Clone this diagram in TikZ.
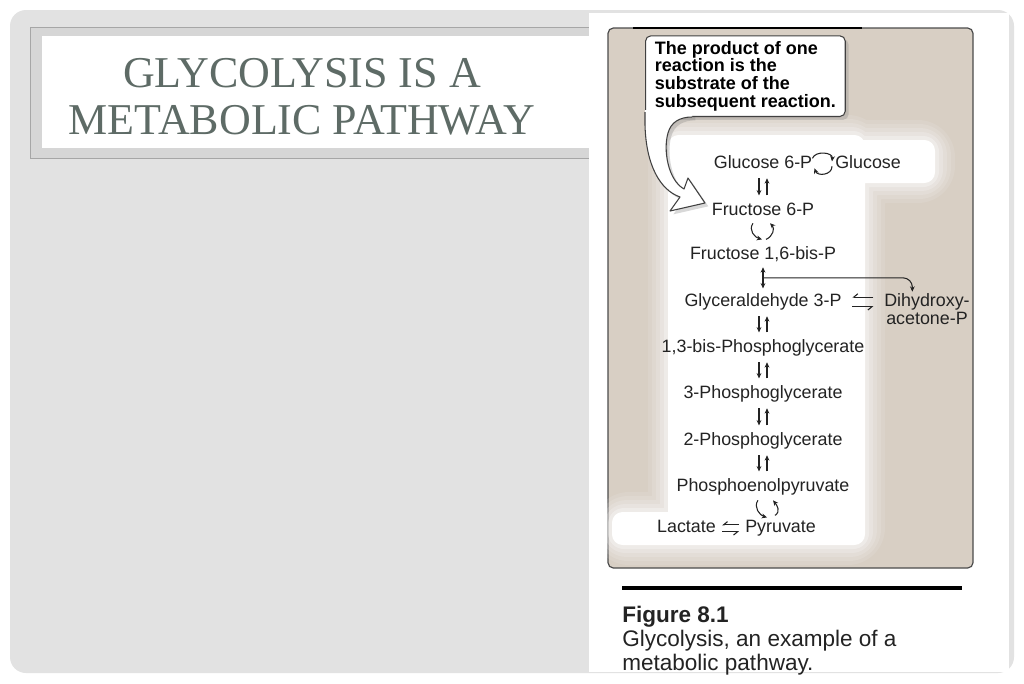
\documentclass[tikz,border=0pt]{standalone}
\usepackage{fontspec}
\setmainfont{Liberation Serif}
\setsansfont{Liberation Sans}
\usepackage{tikz}
\usetikzlibrary{arrows.meta,shadows,calc}

\definecolor{slidegray}{RGB}{226,226,226}
\definecolor{framegray}{RGB}{214,214,214}
\definecolor{titleink}{RGB}{94,107,102}
\definecolor{paper}{RGB}{216,207,196}
\definecolor{ink}{RGB}{35,35,35}

\newcommand{\glowzone}[1]{(668-#1,135-#1) rectangle (865+#1,545+#1) (690-#1,140-#1) rectangle (935+#1,183+#1) (612-#1,512-#1) rectangle (780+#1,545+#1)}
\newcommand{\tailshape}{(645,110) -- (645,125) .. controls (646,165) and (660,190) .. (680,197) -- (670,211) -- (705,203) -- (688,178) -- (684,189) .. controls (668,180) and (663,150) .. (668,133) .. controls (671,122) and (680,117) .. (692,117) -- (692,110) -- cycle}

\begin{document}
\begin{tikzpicture}[x=0.75pt,y=-0.75pt,
  >={Stealth[length=4pt,width=3.6pt]},
  chem/.style={font=\sffamily\fontsize{13.4}{16}\selectfont, text=ink, inner sep=0pt, text height=10pt, text depth=3pt},
  chemtwo/.style={font=\sffamily\fontsize{13.4}{13.5}\selectfont, text=ink, inner sep=0pt, align=center},
  rx/.style={draw=ink, line width=0.8pt, ->},
  hp/.style={draw=ink, line width=0.8pt, -{Straight Barb[harpoon,swap,length=3pt,width=5pt]}},
  notebox/.style={draw=black!75, fill=white, rounded corners=4, line width=0.8pt, align=left,
    font=\sffamily\bfseries\fontsize{13.5}{13.3}\selectfont, inner xsep=7pt, inner ysep=4pt,
    drop shadow={shadow xshift=2.5pt, shadow yshift=-2.5pt, opacity=0.3}}]

 \useasboundingbox (0,0) rectangle (1024,683);
 \fill[white] (0,0) rectangle (1024,683);
 \fill[slidegray, rounded corners=12] (10,10) rectangle (1014,673);

 % title
 \filldraw[fill=framegray, draw=gray!70] (30,27) rectangle (589,158);
 \fill[white] (42,36) rectangle (589,148);
 \node[font=\fontsize{33}{35}\selectfont, text=titleink, align=center, inner sep=0pt, anchor=north] (title) at (302,58) {GLYCOLYSIS IS A\\METABOLIC PATHWAY};

 % figure panel
 \fill[white] (589,13) rectangle (1009,672);
 \filldraw[fill=paper, draw=black!70, line width=0.9pt, rounded corners=4] (608,28) rectangle (973,568);
 \draw[line width=2pt] (633,28) -- (862,28);
 \foreach \d/\o in {20/0.1,16/0.12,12/0.15,8/0.2,4/0.3}
   \fill[white, opacity=\o, rounded corners=8+\d] \glowzone{\d};
 \fill[white, rounded corners=8] \glowzone{0};

 % callout
 \fill[white, drop shadow={shadow xshift=2.5pt, shadow yshift=-2.5pt, opacity=0.3}] \tailshape;
 \node[notebox, anchor=south west] (note) at (645,117) {The product of one\\reaction is the\\substrate of the\\subsequent reaction.};
 \fill[white] \tailshape;
 \draw[black!75, line width=0.8pt, line join=round] (645,112) -- (645,125) .. controls (646,165) and (660,190) .. (680,197) -- (670,211) -- (705,203) -- (688,178) -- (684,189) .. controls (668,180) and (663,150) .. (668,133) .. controls (671,122) and (680,117) .. (692,117);

 % pathway
 \node[chem, anchor=base] (g6p) at (763,168) {Glucose 6-P};
 \node[chem, anchor=base west] (glu) at (835,168) {Glucose};
 \node[chem, anchor=base] (f6p) at (763,215) {Fructose 6-P};
 \node[chem, anchor=base] (f16) at (763,259) {Fructose 1,6-bis-P};
 \node[chem, anchor=base] (g3p) at (763,306) {Glyceraldehyde 3-P};
 \node[chemtwo, anchor=north] (dh) at (927,293) {Dihydroxy-\\acetone-P};
 \node[chem, anchor=base] (bpg) at (763,352) {1,3-bis-Phosphoglycerate};
 \node[chem, anchor=base] (pg3) at (763,398) {3-Phosphoglycerate};
 \node[chem, anchor=base] (pg2) at (763,445) {2-Phosphoglycerate};
 \node[chem, anchor=base] (pep) at (763,491) {Phosphoenolpyruvate};
 \node[chem, anchor=base east] (lac) at (716,532) {Lactate};
 \node[chem, anchor=base west] (pyr) at (745,532) {Pyruvate};

 \foreach \a/\b in {g6p/f6p,g3p/bpg,bpg/pg3,pg3/pg2,pg2/pep} {
   \draw[rx, shorten <=4.5pt, shorten >=4.5pt] ([xshift=-3pt]\a.south) -- ([xshift=-3pt]\b.north);
   \draw[rx, shorten <=4.5pt, shorten >=4.5pt] ([xshift=3pt]\b.north) -- ([xshift=3pt]\a.south);
 }

 \draw[rx] ([shift={(0,-5)}]g6p.east) .. controls +(3,-8) and +(1,-9) .. ([shift={(-3,-2)}]glu.west);
 \draw[rx] ([shift={(-3,3)}]glu.west) .. controls +(0,9) and +(3,8) .. ([shift={(2,5)}]g6p.east);

 \draw[rx] ([shift={(-10,4)}]f6p.south) .. controls +(-5,7) and +(-7,-2) .. ([shift={(-1,-6)}]f16.north);
 \draw[rx] ([shift={(3,-6)}]f16.north) .. controls +(7,-3) and +(5,5) .. ([shift={(7,4)}]f6p.south);

 \draw[rx, <->, shorten <=3pt, shorten >=3pt] (f16.south) -- (f16.south |- g3p.north);
 \coordinate (br) at ($(f16.south)!0.5!(g3p.north)$);
 \draw[rx, rounded corners=7, shorten >=1pt] (br) -- ([xshift=-11pt]dh.north |- br) -- ([xshift=-11pt]dh.north);

 \draw[hp, shorten <=8pt, shorten >=8pt] ([yshift=3.2pt]g3p.east -| dh.west) -- ([yshift=3.2pt]g3p.east);
 \draw[hp, shorten <=8pt, shorten >=8pt] ([yshift=-4pt]g3p.east) -- ([yshift=-4pt]g3p.east -| dh.west);

 \draw[rx] ([shift={(-5,5)}]pep.south) .. controls +(-5,7) and +(-7,-2) .. ([shift={(-13.5,-1)}]pyr.north);
 \draw[rx] ([shift={(-5.5,-3)}]pyr.north) .. controls +(6,-4) and +(4,5) .. ([shift={(10,5)}]pep.south);

 \draw[hp, shorten <=4.5pt, shorten >=4.5pt] ([yshift=1.8pt]pyr.west) -- ([yshift=1.8pt]lac.east);
 \draw[hp, shorten <=4.5pt, shorten >=4.5pt] ([yshift=-3.3pt]lac.east) -- ([yshift=-3.3pt]pyr.west);

 % caption
 \draw[line width=3.6pt] (622,588) -- (962,588);
 \node[font=\sffamily\fontsize{16.9}{18}\selectfont, text=ink, align=left, anchor=north west, inner sep=0pt] (cap) at (622,606) {\textbf{Figure 8.1}\\Glycolysis, an example of a\\metabolic pathway.};
\end{tikzpicture}
\end{document}
